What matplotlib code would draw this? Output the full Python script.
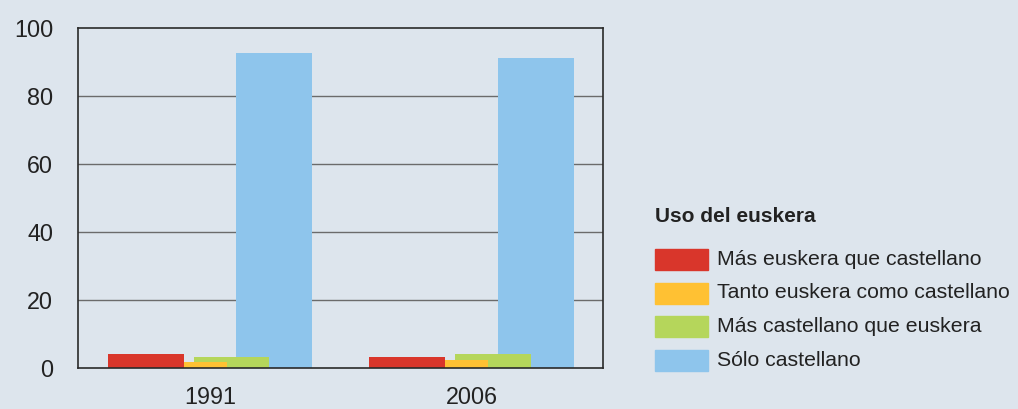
import numpy as np
import matplotlib.pyplot as plt

plt.rcParams['font.family'] = ['Liberation Sans', 'DejaVu Sans']

years = ['1991', '2006']
categories = ['Más euskera que castellano', 'Tanto euskera como castellano',
              'Más castellano que euskera', 'Sólo castellano']
mas_euskera = [4.1, 3.2]
tanto = [1.7, 2.3]
mas_castellano = [3.2, 4.1]
solo_castellano = [92.6, 91.2]
series = [mas_euskera, tanto, mas_castellano, solo_castellano]
colors = ['#D9362B', '#FFC133', '#B5D65B', '#8EC5EC']
offsets = [-0.246, -0.082, 0.082, 0.246]

bg = '#DDE5ED'
fig = plt.figure(figsize=(10.18, 4.09), dpi=100, facecolor=bg)
ax = fig.add_axes([78 / 1018, 1 - 368 / 409, (603 - 78) / 1018, (368 - 28) / 409])
ax.set_facecolor(bg)

x = np.arange(len(years))
for i, (vals, c, off) in enumerate(zip(series, colors, offsets)):
    ax.bar(x + off, vals, width=0.29, color=c, zorder=10 - i, label=categories[i])

ax.set_xlim(-0.505, 1.503)
ax.set_ylim(0, 100)
ax.set_yticks([0, 20, 40, 60, 80, 100])
ax.set_xticks(x)
ax.set_xticklabels(years)
for y in [20, 40, 60, 80]:
    ax.axhline(y, color='#6b6b6b', lw=1.0, zorder=1)
for s in ax.spines.values():
    s.set_color('#2a2a2a')
    s.set_linewidth(1.2)
    s.set_zorder(20)
ax.tick_params(axis='both', length=0, labelsize=16.8, colors='#222222')
ax.tick_params(axis='y', pad=18)
ax.tick_params(axis='x', pad=13)

fig.text(655 / 1018, 1 - 216 / 409, 'Uso del euskera', fontsize=15, fontweight='bold',
         color='#222222', va='center')
for i, (cat, c) in enumerate(zip(categories, colors)):
    yc = 259.5 + i * 33.5
    fig.patches.append(plt.Rectangle((655 / 1018, 1 - (yc + 10.5) / 409), 53 / 1018, 21 / 409,
                                     transform=fig.transFigure, color=c, figure=fig))
    fig.text(717 / 1018, 1 - yc / 409, cat, fontsize=15.3, color='#222222', va='center')

fig.savefig('out.png', dpi=100, facecolor=bg)
